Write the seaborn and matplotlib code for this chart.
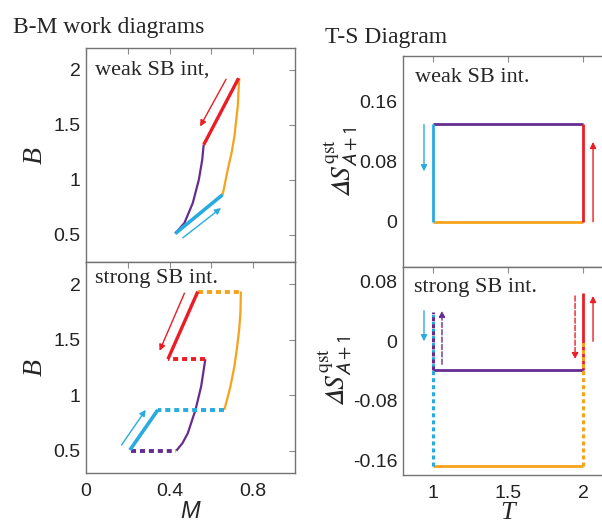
import matplotlib
matplotlib.use('Agg')
import matplotlib.pyplot as plt
import seaborn as sns

sns.set_style('white')
plt.rcParams['font.family'] = ['Liberation Sans', 'DejaVu Sans']
plt.rcParams['mathtext.fontset'] = 'stix'

RED = '#ec1c24'
PURPLE = '#662d91'
ORANGE = '#f7a21b'
BLUE = '#29abe2'
SERIF = 'Liberation Serif'

# B-M cycle, weak SB interaction
weak_red_M = [0.730, 0.563]
weak_red_B = [1.925, 1.318]
weak_purple_M = [0.563, 0.556, 0.540, 0.511, 0.471, 0.427]
weak_purple_B = [1.318, 1.18, 1.0, 0.788, 0.606, 0.509]
weak_blue_M = [0.427, 0.654]
weak_blue_B = [0.509, 0.864]
weak_orange_M = [0.654, 0.678, 0.697, 0.710, 0.726, 0.733]
weak_orange_B = [0.864, 1.09, 1.25, 1.394, 1.667, 1.925]

# B-M cycle, strong SB interaction
strong_orange_dash_M = [0.535, 0.741]
strong_orange_dash_B = [1.934, 1.934]
strong_orange_M = [0.741, 0.739, 0.733, 0.722, 0.710, 0.690, 0.662]
strong_orange_B = [1.934, 1.75, 1.593, 1.42, 1.26, 1.07, 0.869]
strong_blue_dash_M = [0.662, 0.344]
strong_blue_dash_B = [0.869, 0.869]
strong_blue_M = [0.344, 0.210]
strong_blue_B = [0.869, 0.507]
strong_purple_dash_M = [0.215, 0.432]
strong_purple_dash_B = [0.5, 0.5]
strong_purple_M = [0.432, 0.462, 0.487, 0.524, 0.551, 0.571]
strong_purple_B = [0.5, 0.57, 0.658, 0.869, 1.08, 1.325]
strong_red_dash_M = [0.571, 0.392]
strong_red_dash_B = [1.325, 1.325]
strong_red_M = [0.392, 0.535]
strong_red_B = [1.325, 1.934]

# T-S cycle
T_cold, T_hot = 1.0, 2.0
weak_S_top, weak_S_bottom = 0.13, 0.0
strong_S_purple = -0.038
strong_S_orange = -0.168
strong_S_left_top = 0.04
strong_S_right_top = 0.065

# direction arrows: (tail, head, color)
weak_bm_arrows = [((0.670, 1.915), (0.546, 1.485), RED),
                  ((0.463, 0.47), (0.646, 0.742), BLUE)]
strong_bm_arrows = [((0.471, 1.919), (0.352, 1.40), RED),
                    ((0.170, 0.552), (0.286, 0.869), BLUE)]
weak_ts_arrows = [((0.94, 0.129), (0.94, 0.067), BLUE, '-'),
                  ((2.067, 0.0), (2.067, 0.106), RED, '-')]
strong_ts_arrows = [((0.94, 0.041), (0.94, 0.0), BLUE, '-'),
                    ((1.06, -0.031), (1.06, 0.041), PURPLE, '--'),
                    ((1.947, 0.061), (1.947, -0.024), RED, '--'),
                    ((2.067, 0.0), (2.067, 0.061), RED, '-')]

bm_ticks = [0.5, 1, 1.5, 2]
bm_ticklabels = ['0.5', '1', '1.5', '2']
m_ticks = [0, 0.2, 0.4, 0.6, 0.8]
m_ticklabels = ['0', '', '0.4', '', '0.8']
t_ticks = [1, 1.5, 2]
t_ticklabels = ['1', '1.5', '2']
weak_s_ticks = [-0.04, 0, 0.04, 0.08, 0.12, 0.16]
weak_s_ticklabels = ['', '0', '', '0.08', '', '0.16']
strong_s_ticks = [-0.16, -0.12, -0.08, -0.04, 0, 0.04, 0.08]
strong_s_ticklabels = ['-0.16', '', '-0.08', '', '0', '', '0.08']

DASH = (0, (1.3, 1.0))


def seg(ax, x, y, color, lw, dashed=False):
    sns.lineplot(x=x, y=y, color=color, lw=lw, sort=False, estimator=None,
                 ax=ax, linestyle=DASH if dashed else '-',
                 solid_capstyle='butt', dash_capstyle='butt')


def style(ax):
    for s in ax.spines.values():
        s.set_color('0.45')
        s.set_linewidth(1.0)
    ax.tick_params(direction='in', top=True, right=True, length=4,
                   width=0.8, color='0.55', labelsize=14, pad=4,
                   labelcolor='#222222')
    ax.tick_params(axis='x', pad=7)
    ax.set_xlabel('')
    ax.set_ylabel('')


def arrows(ax, items):
    for it in items:
        tail, head, col = it[0], it[1], it[2]
        ls = it[3] if len(it) > 3 else '-'
        ax.annotate('', xy=head, xytext=tail,
                    arrowprops=dict(arrowstyle='-|>', color=col, lw=1.0,
                                    linestyle=ls, mutation_scale=9,
                                    shrinkA=0, shrinkB=0))


fig = plt.figure(figsize=(6.02, 5.24), dpi=100)
ax1 = fig.add_axes([86 / 602, 0.5, 209 / 602, 214 / 524])
ax2 = fig.add_axes([86 / 602, 51 / 524, 209 / 602, 211 / 524])
ax3 = fig.add_axes([403 / 602, 257 / 524, 210 / 602, 211 / 524])
ax4 = fig.add_axes([403 / 602, 49 / 524, 210 / 602, 208 / 524])

# weak B-M
seg(ax1, weak_purple_M, weak_purple_B, PURPLE, 1.6)
seg(ax1, weak_orange_M, weak_orange_B, ORANGE, 1.6)
seg(ax1, weak_red_M, weak_red_B, RED, 2.4)
seg(ax1, weak_blue_M, weak_blue_B, BLUE, 2.6)
arrows(ax1, weak_bm_arrows)

# strong B-M
seg(ax2, strong_orange_M, strong_orange_B, ORANGE, 1.6)
seg(ax2, strong_purple_M, strong_purple_B, PURPLE, 1.6)
seg(ax2, strong_orange_dash_M, strong_orange_dash_B, ORANGE, 2.8, True)
seg(ax2, strong_blue_dash_M, strong_blue_dash_B, BLUE, 2.8, True)
seg(ax2, strong_purple_dash_M, strong_purple_dash_B, PURPLE, 2.8, True)
seg(ax2, strong_red_dash_M, strong_red_dash_B, RED, 2.8, True)
seg(ax2, strong_red_M, strong_red_B, RED, 2.4)
seg(ax2, strong_blue_M, strong_blue_B, BLUE, 2.6)
arrows(ax2, strong_bm_arrows)

for ax, lo in ((ax1, 0.25), (ax2, 0.3)):
    style(ax)
    ax.set_xlim(0, 1)
    ax.set_ylim(lo, 2.2)
    ax.set_yticks(bm_ticks, bm_ticklabels)
    ax.set_xticks(m_ticks, m_ticklabels)
    ax.set_ylabel('B', fontfamily=SERIF, style='italic', fontsize=20,
                  labelpad=4)
ax1.tick_params(labelbottom=False)
ax2.set_xlabel('M', style='italic', fontsize=17, labelpad=0)

# weak T-S
seg(ax3, [T_cold, T_hot], [weak_S_top, weak_S_top], PURPLE, 2.0)
seg(ax3, [T_cold, T_hot], [weak_S_bottom, weak_S_bottom], ORANGE, 2.0)
seg(ax3, [T_cold, T_cold], [weak_S_top, weak_S_bottom], BLUE, 2.0)
seg(ax3, [T_hot, T_hot], [weak_S_bottom, weak_S_top], RED, 2.0)
arrows(ax3, weak_ts_arrows)

# strong T-S
seg(ax4, [T_hot, T_hot], [strong_S_right_top, strong_S_purple], RED, 2.0)
seg(ax4, [T_cold, T_hot], [strong_S_purple, strong_S_purple], PURPLE, 2.0)
seg(ax4, [T_cold, T_hot], [strong_S_orange, strong_S_orange], ORANGE, 2.0)
seg(ax4, [T_cold, T_cold], [strong_S_orange, strong_S_left_top], BLUE, 2.2, True)
seg(ax4, [T_cold, T_cold], [strong_S_purple, strong_S_left_top], PURPLE, 2.2, True)
seg(ax4, [T_hot, T_hot], [strong_S_orange, 0.0], ORANGE, 2.2, True)
arrows(ax4, strong_ts_arrows)

ylab = '$\U0001D6E5S^{\\mathrm{qst}}_{\\mathsf{A+1}}$'
for ax, lim, tk, tl in ((ax3, (-0.06, 0.22), weak_s_ticks, weak_s_ticklabels),
                        (ax4, (-0.18, 0.1), strong_s_ticks, strong_s_ticklabels)):
    style(ax)
    ax.set_xlim(0.8, 2.2)
    ax.set_ylim(*lim)
    ax.set_xticks(t_ticks, t_ticklabels)
    ax.set_yticks(tk, tl)
    ax.set_ylabel(ylab, fontsize=20, labelpad=0)
ax3.tick_params(labelbottom=False)
ax4.set_xlabel('T', fontfamily=SERIF, style='italic', fontsize=19, labelpad=0)

ax1.text(0.043, 0.897, 'weak SB int,', transform=ax1.transAxes,
         fontfamily=SERIF, fontsize=16, va='center')
ax2.text(0.043, 0.924, 'strong SB int.', transform=ax2.transAxes,
         fontfamily=SERIF, fontsize=16, va='center')
ax3.text(0.057, 0.896, 'weak SB int.', transform=ax3.transAxes,
         fontfamily=SERIF, fontsize=16, va='center')
ax4.text(0.05, 0.90, 'strong SB int.', transform=ax4.transAxes,
         fontfamily=SERIF, fontsize=16, va='center')

fig.text(13 / 602, 1 - 28 / 524, 'B-M work diagrams', fontfamily=SERIF,
         fontsize=17, va='center')
fig.text(325 / 602, 1 - 37 / 524, 'T-S Diagram', fontfamily=SERIF,
         fontsize=17, va='center')

fig.savefig('out.png', dpi=100)
